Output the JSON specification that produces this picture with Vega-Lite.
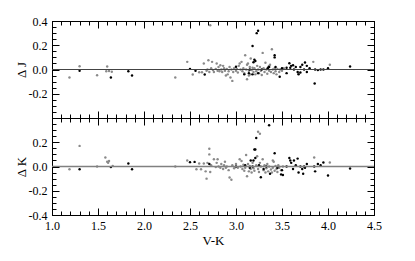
{
  "$schema": "https://vega.github.io/schema/vega-lite/v6.json",
  "padding": {"left": 14, "top": 14, "right": 5, "bottom": 5},
  "spacing": 0,
  "bounds": "flush",
  "config": {
    "font": "Liberation Serif",
    "view": {"stroke": "black", "strokeWidth": 1},
    "axis": {"grid": false, "domain": false, "ticks": true, "zindex": 2, "tickColor": "#000000", "tickOpacity": 1, "labelColor": "black", "titleColor": "black", "labelFontSize": 12, "titleFontSize": 13, "titleFontWeight": "normal", "labelFont": "Liberation Serif", "titleFont": "Liberation Serif", "tickWidth": 1},
    "circle": {"size": 6, "opacity": 1}
  },
  "datasets": {
    "one": [{"z": 0}],
    "J": [
      {"vk": 1.19, "d": -0.066, "g": "a"}, {"vk": 1.30, "d": 0.027, "g": "a"}, {"vk": 1.49, "d": -0.047, "g": "a"}, {"vk": 1.60, "d": 0.025, "g": "a"},
      {"vk": 1.59, "d": -0.015, "g": "a"}, {"vk": 1.62, "d": -0.012, "g": "a"}, {"vk": 1.65, "d": -0.018, "g": "a"}, {"vk": 2.34, "d": -0.066, "g": "a"},
      {"vk": 2.47, "d": 0.063, "g": "a"}, {"vk": 2.53, "d": -0.041, "g": "a"}, {"vk": 2.60, "d": -0.022, "g": "a"}, {"vk": 2.63, "d": -0.022, "g": "a"},
      {"vk": 2.65, "d": 0.049, "g": "a"}, {"vk": 2.70, "d": 0.077, "g": "a"}, {"vk": 2.72, "d": 0.365, "g": "a"}, {"vk": 2.74, "d": 0.063, "g": "a"},
      {"vk": 2.79, "d": 0.049, "g": "a"}, {"vk": 2.68, "d": -0.01, "g": "a"}, {"vk": 2.69, "d": 0.0, "g": "a"}, {"vk": 2.71, "d": -0.02, "g": "a"},
      {"vk": 2.73, "d": 0.01, "g": "a"}, {"vk": 2.75, "d": -0.005, "g": "a"}, {"vk": 2.76, "d": -0.02, "g": "a"}, {"vk": 2.78, "d": 0.005, "g": "a"},
      {"vk": 2.80, "d": -0.01, "g": "a"}, {"vk": 2.81, "d": 0.02, "g": "a"}, {"vk": 2.82, "d": -0.015, "g": "a"}, {"vk": 2.84, "d": 0.0, "g": "a"},
      {"vk": 2.85, "d": -0.02, "g": "a"}, {"vk": 2.86, "d": 0.03, "g": "a"}, {"vk": 2.87, "d": 0.01, "g": "a"}, {"vk": 2.88, "d": -0.01, "g": "a"},
      {"vk": 2.90, "d": 0.005, "g": "a"}, {"vk": 2.91, "d": -0.04, "g": "a"}, {"vk": 2.92, "d": -0.015, "g": "a"}, {"vk": 2.94, "d": -0.066, "g": "a"},
      {"vk": 2.96, "d": -0.094, "g": "a"}, {"vk": 2.95, "d": 0.0, "g": "a"}, {"vk": 2.97, "d": -0.02, "g": "a"}, {"vk": 2.98, "d": 0.01, "g": "a"},
      {"vk": 3.00, "d": -0.01, "g": "a"}, {"vk": 3.01, "d": 0.005, "g": "a"}, {"vk": 3.02, "d": -0.025, "g": "a"}, {"vk": 3.04, "d": 0.049, "g": "a"},
      {"vk": 3.06, "d": 0.063, "g": "a"}, {"vk": 3.05, "d": 0.0, "g": "a"}, {"vk": 3.07, "d": -0.015, "g": "a"}, {"vk": 3.08, "d": 0.01, "g": "a"},
      {"vk": 3.09, "d": -0.03, "g": "a"}, {"vk": 3.10, "d": 0.118, "g": "a"}, {"vk": 3.11, "d": 0.0, "g": "a"}, {"vk": 3.12, "d": -0.08, "g": "a"},
      {"vk": 3.13, "d": 0.05, "g": "a"}, {"vk": 3.12, "d": 0.04, "g": "a"}, {"vk": 3.14, "d": -0.01, "g": "a"}, {"vk": 3.15, "d": 0.02, "g": "a"},
      {"vk": 3.16, "d": 0.09, "g": "a"}, {"vk": 3.16, "d": -0.04, "g": "a"}, {"vk": 3.17, "d": -0.005, "g": "a"}, {"vk": 3.18, "d": 0.015, "g": "a"},
      {"vk": 3.19, "d": -0.02, "g": "a"}, {"vk": 3.20, "d": 0.01, "g": "a"}, {"vk": 3.22, "d": -0.015, "g": "a"}, {"vk": 3.23, "d": 0.03, "g": "a"},
      {"vk": 3.24, "d": 0.0, "g": "a"}, {"vk": 3.25, "d": -0.03, "g": "a"}, {"vk": 3.26, "d": 0.02, "g": "a"}, {"vk": 3.27, "d": -0.01, "g": "a"},
      {"vk": 3.29, "d": 0.137, "g": "a"}, {"vk": 3.30, "d": 0.01, "g": "a"}, {"vk": 3.31, "d": -0.02, "g": "a"}, {"vk": 3.32, "d": 0.055, "g": "a"},
      {"vk": 3.33, "d": 0.0, "g": "a"}, {"vk": 3.34, "d": -0.035, "g": "a"}, {"vk": 3.35, "d": 0.02, "g": "a"}, {"vk": 3.36, "d": -0.01, "g": "a"},
      {"vk": 3.37, "d": 0.04, "g": "a"}, {"vk": 3.38, "d": -0.02, "g": "a"}, {"vk": 3.39, "d": 0.167, "g": "a"}, {"vk": 3.40, "d": 0.0, "g": "a"},
      {"vk": 3.41, "d": -0.03, "g": "a"}, {"vk": 3.42, "d": 0.01, "g": "a"}, {"vk": 3.43, "d": -0.015, "g": "a"}, {"vk": 3.44, "d": -0.04, "g": "a"},
      {"vk": 3.45, "d": 0.005, "g": "a"}, {"vk": 3.47, "d": -0.02, "g": "a"}, {"vk": 3.48, "d": 0.0, "g": "a"}, {"vk": 3.50, "d": -0.01, "g": "a"},
      {"vk": 3.52, "d": 0.01, "g": "a"}, {"vk": 3.68, "d": -0.03, "g": "a"}, {"vk": 3.84, "d": 0.063, "g": "a"}, {"vk": 4.02, "d": 0.04, "g": "a"},
      {"vk": 2.83, "d": 0.035, "g": "a"}, {"vk": 2.89, "d": -0.05, "g": "a"}, {"vk": 2.93, "d": 0.02, "g": "a"}, {"vk": 3.03, "d": 0.03, "g": "a"},
      {"vk": 3.14, "d": -0.05, "g": "a"}, {"vk": 3.21, "d": -0.04, "g": "a"}, {"vk": 3.28, "d": -0.045, "g": "a"}, {"vk": 3.36, "d": 0.03, "g": "a"},
      {"vk": 1.30, "d": -0.01, "g": "b"}, {"vk": 1.64, "d": -0.066, "g": "b"}, {"vk": 1.83, "d": -0.014, "g": "b"}, {"vk": 1.87, "d": -0.05, "g": "b"},
      {"vk": 2.50, "d": 0.005, "g": "b"}, {"vk": 2.56, "d": -0.011, "g": "b"}, {"vk": 2.66, "d": -0.041, "g": "b"}, {"vk": 3.00, "d": 0.022, "g": "b"},
      {"vk": 3.09, "d": -0.04, "g": "b"}, {"vk": 3.14, "d": -0.03, "g": "b"}, {"vk": 3.18, "d": -0.04, "g": "b"}, {"vk": 3.18, "d": 0.194, "g": "b"},
      {"vk": 3.225, "d": 0.30, "g": "b"}, {"vk": 3.24, "d": 0.32, "g": "b"}, {"vk": 3.20, "d": 0.08, "g": "b"}, {"vk": 3.21, "d": 0.07, "g": "b"},
      {"vk": 3.19, "d": 0.06, "g": "b"}, {"vk": 3.28, "d": 0.0, "g": "b"}, {"vk": 3.24, "d": -0.03, "g": "b"}, {"vk": 3.15, "d": 0.0, "g": "b"},
      {"vk": 3.345, "d": 0.01, "g": "b"}, {"vk": 3.36, "d": 0.02, "g": "b"}, {"vk": 3.42, "d": 0.118, "g": "b"}, {"vk": 3.42, "d": 0.10, "g": "b"},
      {"vk": 3.43, "d": 0.02, "g": "b"}, {"vk": 3.475, "d": -0.06, "g": "b"}, {"vk": 3.55, "d": 0.015, "g": "b"}, {"vk": 3.58, "d": 0.052, "g": "b"},
      {"vk": 3.59, "d": 0.015, "g": "b"}, {"vk": 3.55, "d": -0.03, "g": "b"}, {"vk": 3.60, "d": 0.03, "g": "b"}, {"vk": 3.63, "d": 0.0, "g": "b"},
      {"vk": 3.65, "d": 0.02, "g": "b"}, {"vk": 3.67, "d": -0.02, "g": "b"}, {"vk": 3.68, "d": -0.04, "g": "b"}, {"vk": 3.70, "d": 0.02, "g": "b"},
      {"vk": 3.70, "d": -0.025, "g": "b"}, {"vk": 3.72, "d": 0.04, "g": "b"}, {"vk": 3.75, "d": 0.058, "g": "b"}, {"vk": 3.77, "d": 0.03, "g": "b"},
      {"vk": 3.77, "d": -0.02, "g": "b"}, {"vk": 3.74, "d": 0.0, "g": "b"}, {"vk": 3.80, "d": 0.01, "g": "b"}, {"vk": 3.855, "d": -0.115, "g": "b"},
      {"vk": 3.86, "d": 0.0, "g": "b"}, {"vk": 3.89, "d": -0.005, "g": "b"}, {"vk": 3.92, "d": 0.0, "g": "b"}, {"vk": 3.95, "d": 0.0, "g": "b"},
      {"vk": 4.00, "d": 0.01, "g": "b"}, {"vk": 4.24, "d": 0.025, "g": "b"}, {"vk": 3.50, "d": 0.01, "g": "b"}, {"vk": 3.62, "d": 0.035, "g": "b"}
    ],
    "K": [
      {"vk": 1.19, "d": -0.022, "g": "a"}, {"vk": 1.30, "d": 0.17, "g": "a"}, {"vk": 1.49, "d": 0.0, "g": "a"}, {"vk": 1.58, "d": 0.074, "g": "a"},
      {"vk": 1.60, "d": 0.04, "g": "a"}, {"vk": 1.61, "d": 0.03, "g": "a"}, {"vk": 1.62, "d": 0.045, "g": "a"}, {"vk": 1.66, "d": 0.005, "g": "a"},
      {"vk": 2.34, "d": 0.0, "g": "a"}, {"vk": 2.47, "d": 0.05, "g": "a"}, {"vk": 2.57, "d": -0.022, "g": "a"}, {"vk": 2.60, "d": 0.025, "g": "a"},
      {"vk": 2.62, "d": -0.022, "g": "a"}, {"vk": 2.65, "d": 0.025, "g": "a"}, {"vk": 2.67, "d": -0.04, "g": "a"}, {"vk": 2.68, "d": -0.1, "g": "a"},
      {"vk": 2.69, "d": 0.03, "g": "a"}, {"vk": 2.71, "d": 0.1, "g": "a"}, {"vk": 2.71, "d": 0.147, "g": "a"}, {"vk": 2.72, "d": -0.045, "g": "a"},
      {"vk": 2.73, "d": 0.01, "g": "a"}, {"vk": 2.76, "d": 0.06, "g": "a"}, {"vk": 2.78, "d": -0.005, "g": "a"}, {"vk": 2.79, "d": 0.03, "g": "a"},
      {"vk": 2.80, "d": 0.06, "g": "a"}, {"vk": 2.81, "d": 0.0, "g": "a"}, {"vk": 2.83, "d": -0.01, "g": "a"}, {"vk": 2.84, "d": 0.02, "g": "a"},
      {"vk": 2.86, "d": -0.02, "g": "a"}, {"vk": 2.87, "d": 0.01, "g": "a"}, {"vk": 2.89, "d": -0.01, "g": "a"}, {"vk": 2.90, "d": 0.0, "g": "a"},
      {"vk": 2.92, "d": -0.03, "g": "a"}, {"vk": 2.93, "d": -0.09, "g": "a"}, {"vk": 2.95, "d": -0.11, "g": "a"}, {"vk": 2.96, "d": 0.01, "g": "a"},
      {"vk": 2.98, "d": -0.015, "g": "a"}, {"vk": 3.00, "d": 0.02, "g": "a"}, {"vk": 3.02, "d": -0.01, "g": "a"}, {"vk": 3.04, "d": 0.06, "g": "a"},
      {"vk": 3.06, "d": 0.045, "g": "a"}, {"vk": 3.05, "d": 0.0, "g": "a"}, {"vk": 3.07, "d": -0.02, "g": "a"}, {"vk": 3.08, "d": 0.015, "g": "a"},
      {"vk": 3.09, "d": -0.035, "g": "a"}, {"vk": 3.11, "d": 0.095, "g": "a"}, {"vk": 3.10, "d": -0.01, "g": "a"}, {"vk": 3.12, "d": -0.08, "g": "a"},
      {"vk": 3.13, "d": 0.02, "g": "a"}, {"vk": 3.14, "d": -0.04, "g": "a"}, {"vk": 3.15, "d": 0.005, "g": "a"}, {"vk": 3.16, "d": -0.02, "g": "a"},
      {"vk": 3.17, "d": -0.05, "g": "a"}, {"vk": 3.18, "d": 0.03, "g": "a"}, {"vk": 3.19, "d": -0.015, "g": "a"}, {"vk": 3.20, "d": -0.035, "g": "a"},
      {"vk": 3.22, "d": 0.01, "g": "a"}, {"vk": 3.23, "d": 0.085, "g": "a"}, {"vk": 3.24, "d": 0.287, "g": "a"}, {"vk": 3.26, "d": 0.27, "g": "a"},
      {"vk": 3.24, "d": -0.02, "g": "a"}, {"vk": 3.25, "d": -0.045, "g": "a"}, {"vk": 3.26, "d": 0.03, "g": "a"}, {"vk": 3.27, "d": 0.0, "g": "a"},
      {"vk": 3.29, "d": 0.06, "g": "a"}, {"vk": 3.30, "d": -0.03, "g": "a"}, {"vk": 3.31, "d": 0.01, "g": "a"}, {"vk": 3.32, "d": -0.05, "g": "a"},
      {"vk": 3.33, "d": -0.015, "g": "a"}, {"vk": 3.34, "d": 0.02, "g": "a"}, {"vk": 3.35, "d": -0.04, "g": "a"}, {"vk": 3.36, "d": 0.0, "g": "a"},
      {"vk": 3.38, "d": -0.025, "g": "a"}, {"vk": 3.39, "d": -0.05, "g": "a"}, {"vk": 3.40, "d": 0.05, "g": "a"}, {"vk": 3.41, "d": 0.04, "g": "a"},
      {"vk": 3.40, "d": -0.01, "g": "a"}, {"vk": 3.42, "d": -0.035, "g": "a"}, {"vk": 3.43, "d": 0.005, "g": "a"}, {"vk": 3.44, "d": -0.02, "g": "a"},
      {"vk": 3.45, "d": -0.045, "g": "a"}, {"vk": 3.46, "d": 0.01, "g": "a"}, {"vk": 3.47, "d": -0.01, "g": "a"}, {"vk": 3.49, "d": -0.03, "g": "a"},
      {"vk": 3.51, "d": 0.0, "g": "a"}, {"vk": 3.85, "d": 0.074, "g": "a"}, {"vk": 4.02, "d": 0.033, "g": "a"}, {"vk": 2.88, "d": 0.04, "g": "a"},
      {"vk": 1.30, "d": -0.022, "g": "b"}, {"vk": 1.64, "d": -0.005, "g": "b"}, {"vk": 1.83, "d": 0.025, "g": "b"}, {"vk": 1.87, "d": -0.022, "g": "b"},
      {"vk": 2.50, "d": 0.036, "g": "b"}, {"vk": 2.55, "d": 0.038, "g": "b"}, {"vk": 2.71, "d": 0.02, "g": "b"}, {"vk": 3.00, "d": 0.0, "g": "b"},
      {"vk": 3.10, "d": 0.01, "g": "b"}, {"vk": 3.15, "d": -0.01, "g": "b"}, {"vk": 3.16, "d": 0.05, "g": "b"}, {"vk": 3.18, "d": 0.0, "g": "b"},
      {"vk": 3.19, "d": 0.05, "g": "b"}, {"vk": 3.20, "d": 0.14, "g": "b"}, {"vk": 3.21, "d": 0.14, "g": "b"}, {"vk": 3.21, "d": 0.07, "g": "b"},
      {"vk": 3.22, "d": 0.235, "g": "b"}, {"vk": 3.25, "d": 0.01, "g": "b"}, {"vk": 3.27, "d": -0.088, "g": "b"}, {"vk": 3.30, "d": -0.02, "g": "b"},
      {"vk": 3.33, "d": 0.0, "g": "b"}, {"vk": 3.36, "d": 0.34, "g": "b"}, {"vk": 3.37, "d": -0.06, "g": "b"}, {"vk": 3.42, "d": 0.11, "g": "b"},
      {"vk": 3.45, "d": -0.01, "g": "b"}, {"vk": 3.49, "d": -0.065, "g": "b"}, {"vk": 3.51, "d": -0.07, "g": "b"}, {"vk": 3.50, "d": -0.03, "g": "b"},
      {"vk": 3.55, "d": 0.0, "g": "b"}, {"vk": 3.58, "d": 0.07, "g": "b"}, {"vk": 3.59, "d": 0.05, "g": "b"}, {"vk": 3.60, "d": 0.03, "g": "b"},
      {"vk": 3.62, "d": -0.02, "g": "b"}, {"vk": 3.63, "d": 0.05, "g": "b"}, {"vk": 3.65, "d": 0.01, "g": "b"}, {"vk": 3.67, "d": 0.065, "g": "b"},
      {"vk": 3.68, "d": -0.05, "g": "b"}, {"vk": 3.70, "d": 0.0, "g": "b"}, {"vk": 3.72, "d": -0.02, "g": "b"}, {"vk": 3.73, "d": -0.06, "g": "b"},
      {"vk": 3.74, "d": 0.0, "g": "b"}, {"vk": 3.75, "d": -0.01, "g": "b"}, {"vk": 3.77, "d": 0.02, "g": "b"}, {"vk": 3.85, "d": 0.0, "g": "b"},
      {"vk": 3.86, "d": -0.04, "g": "b"}, {"vk": 3.89, "d": 0.02, "g": "b"}, {"vk": 3.92, "d": 0.01, "g": "b"}, {"vk": 3.95, "d": 0.033, "g": "b"},
      {"vk": 4.00, "d": -0.074, "g": "b"}, {"vk": 4.24, "d": -0.016, "g": "b"}
    ]
  },
  "vconcat": [
    {
      "width": 322, "height": 97,
      "resolve": {"axis": {"x": "independent", "y": "independent"}},
      "layer": [
        {
          "data": {"name": "J"},
          "transform": [{"filter": "datum.g == 'a'"}],
          "mark": {"type": "circle", "color": "#8a8a8a"},
          "encoding": {
            "x": {"field": "vk", "type": "quantitative", "scale": {"domain": [1, 4.5], "nice": false},
              "axis": {"orient": "bottom", "labels": false, "title": null, "ticks": true, "tickColor": "#000000", "tickSize": -4, "zindex": 2,
                "values": [1.0,1.1,1.2,1.3,1.4,1.5,1.6,1.7,1.8,1.9,2.0,2.1,2.2,2.3,2.4,2.5,2.6,2.7,2.8,2.9,3.0,3.1,3.2,3.3,3.4,3.5,3.6,3.7,3.8,3.9,4.0,4.1,4.2,4.3,4.4,4.5]}},
            "y": {"field": "d", "type": "quantitative", "scale": {"domain": [-0.4, 0.4], "nice": false, "zero": false},
              "axis": {"orient": "left", "labels": false, "title": null, "ticks": true, "tickColor": "#000000", "tickSize": -4, "zindex": 2,
                "values": [-0.4,-0.35,-0.3,-0.25,-0.2,-0.15,-0.1,-0.05,0,0.05,0.1,0.15,0.2,0.25,0.3,0.35,0.4]}}
          }
        },
        {
          "data": {"name": "J"},
          "transform": [{"filter": "datum.g == 'b'"}],
          "mark": {"type": "circle", "color": "#000000"},
          "encoding": {
            "x": {"field": "vk", "type": "quantitative",
              "axis": {"orient": "top", "labels": false, "title": null, "ticks": true, "tickColor": "#000000", "tickSize": -4, "zindex": 2,
                "values": [1.0,1.1,1.2,1.3,1.4,1.5,1.6,1.7,1.8,1.9,2.0,2.1,2.2,2.3,2.4,2.5,2.6,2.7,2.8,2.9,3.0,3.1,3.2,3.3,3.4,3.5,3.6,3.7,3.8,3.9,4.0,4.1,4.2,4.3,4.4,4.5]}},
            "y": {"field": "d", "type": "quantitative",
              "axis": {"orient": "right", "labels": false, "title": null, "ticks": true, "tickColor": "#000000", "tickSize": -4, "zindex": 2,
                "values": [-0.4,-0.35,-0.3,-0.25,-0.2,-0.15,-0.1,-0.05,0,0.05,0.1,0.15,0.2,0.25,0.3,0.35,0.4]}}
          }
        },
        {
          "data": {"name": "one"},
          "mark": {"type": "rule", "color": "#444444", "strokeWidth": 1.1},
          "encoding": {
            "x": {"datum": 1, "type": "quantitative",
              "axis": {"orient": "bottom", "labels": false, "title": null, "ticks": true, "tickColor": "#000000", "tickSize": -7, "zindex": 2,
                "values": [1.0, 1.5, 2.0, 2.5, 3.0, 3.5, 4.0, 4.5]}},
            "x2": {"datum": 4.5},
            "y": {"datum": 0, "type": "quantitative",
              "axis": {"orient": "left", "title": "Δ J", "titlePadding": 0, "ticks": true, "tickColor": "#000000", "tickSize": -7, "labelPadding": 12, "zindex": 2,
                "values": [-0.4, -0.2, 0, 0.2, 0.4],
                "labelExpr": "datum.value > -0.35 ? ((datum.value < -0.001 ? '-' : '') + format(abs(datum.value), '.1f')) : ''",
                "labelFlush": false, "labelOverlap": false}}
          }
        },
        {
          "data": {"name": "one"},
          "mark": {"type": "rule", "opacity": 0},
          "encoding": {
            "x": {"datum": 1, "type": "quantitative",
              "axis": {"orient": "top", "labels": false, "title": null, "ticks": true, "tickColor": "#000000", "tickSize": -7, "zindex": 2,
                "values": [1.0, 1.5, 2.0, 2.5, 3.0, 3.5, 4.0, 4.5]}},
            "x2": {"datum": 4.5},
            "y": {"datum": 0, "type": "quantitative",
              "axis": {"orient": "right", "labels": false, "title": null, "ticks": true, "tickColor": "#000000", "tickSize": -7, "zindex": 2,
                "values": [-0.4, -0.2, 0, 0.2, 0.4]}}
          }
        }
      ]
    },
    {
      "width": 322, "height": 97,
      "resolve": {"axis": {"x": "independent", "y": "independent"}},
      "layer": [
        {
          "data": {"name": "K"},
          "transform": [{"filter": "datum.g == 'a'"}],
          "mark": {"type": "circle", "color": "#8a8a8a"},
          "encoding": {
            "x": {"field": "vk", "type": "quantitative", "scale": {"domain": [1, 4.5], "nice": false},
              "axis": {"orient": "bottom", "labels": false, "title": null, "ticks": true, "tickColor": "#000000", "tickSize": -4, "zindex": 2,
                "values": [1.0,1.1,1.2,1.3,1.4,1.5,1.6,1.7,1.8,1.9,2.0,2.1,2.2,2.3,2.4,2.5,2.6,2.7,2.8,2.9,3.0,3.1,3.2,3.3,3.4,3.5,3.6,3.7,3.8,3.9,4.0,4.1,4.2,4.3,4.4,4.5]}},
            "y": {"field": "d", "type": "quantitative", "scale": {"domain": [-0.4, 0.4], "nice": false, "zero": false},
              "axis": {"orient": "left", "labels": false, "title": null, "ticks": true, "tickColor": "#000000", "tickSize": -4, "zindex": 2,
                "values": [-0.4,-0.35,-0.3,-0.25,-0.2,-0.15,-0.1,-0.05,0,0.05,0.1,0.15,0.2,0.25,0.3,0.35,0.4]}}
          }
        },
        {
          "data": {"name": "K"},
          "transform": [{"filter": "datum.g == 'b'"}],
          "mark": {"type": "circle", "color": "#000000"},
          "encoding": {
            "x": {"field": "vk", "type": "quantitative",
              "axis": {"orient": "top", "labels": false, "title": null, "ticks": true, "tickColor": "#000000", "tickSize": -4, "zindex": 2,
                "values": [1.0,1.1,1.2,1.3,1.4,1.5,1.6,1.7,1.8,1.9,2.0,2.1,2.2,2.3,2.4,2.5,2.6,2.7,2.8,2.9,3.0,3.1,3.2,3.3,3.4,3.5,3.6,3.7,3.8,3.9,4.0,4.1,4.2,4.3,4.4,4.5]}},
            "y": {"field": "d", "type": "quantitative",
              "axis": {"orient": "right", "labels": false, "title": null, "ticks": true, "tickColor": "#000000", "tickSize": -4, "zindex": 2,
                "values": [-0.4,-0.35,-0.3,-0.25,-0.2,-0.15,-0.1,-0.05,0,0.05,0.1,0.15,0.2,0.25,0.3,0.35,0.4]}}
          }
        },
        {
          "data": {"name": "one"},
          "mark": {"type": "rule", "color": "#808080", "strokeWidth": 1.3},
          "encoding": {
            "x": {"datum": 1, "type": "quantitative",
              "axis": {"orient": "bottom", "title": "V-K", "titlePadding": 3, "ticks": true, "tickColor": "#000000", "tickSize": -7, "labelPadding": 12, "zindex": 2,
                "values": [1.0, 1.5, 2.0, 2.5, 3.0, 3.5, 4.0, 4.5],
                "labelExpr": "format(datum.value, '.1f')",
                "labelFlush": false, "labelOverlap": false}},
            "x2": {"datum": 4.5},
            "y": {"datum": 0, "type": "quantitative",
              "axis": {"orient": "left", "title": "Δ K", "titlePadding": 0, "ticks": true, "tickColor": "#000000", "tickSize": -7, "labelPadding": 12, "zindex": 2,
                "values": [-0.4, -0.2, 0, 0.2, 0.4],
                "labelExpr": "datum.value < 0.35 ? ((datum.value < -0.001 ? '-' : '') + format(abs(datum.value), '.1f')) : ''",
                "labelFlush": false, "labelOverlap": false}}
          }
        },
        {
          "data": {"name": "one"},
          "mark": {"type": "rule", "opacity": 0},
          "encoding": {
            "x": {"datum": 1, "type": "quantitative",
              "axis": {"orient": "top", "labels": false, "title": null, "ticks": true, "tickColor": "#000000", "tickSize": -7, "zindex": 2,
                "values": [1.0, 1.5, 2.0, 2.5, 3.0, 3.5, 4.0, 4.5]}},
            "x2": {"datum": 4.5},
            "y": {"datum": 0, "type": "quantitative",
              "axis": {"orient": "right", "labels": false, "title": null, "ticks": true, "tickColor": "#000000", "tickSize": -7, "zindex": 2,
                "values": [-0.4, -0.2, 0, 0.2, 0.4]}}
          }
        }
      ]
    }
  ]
}
